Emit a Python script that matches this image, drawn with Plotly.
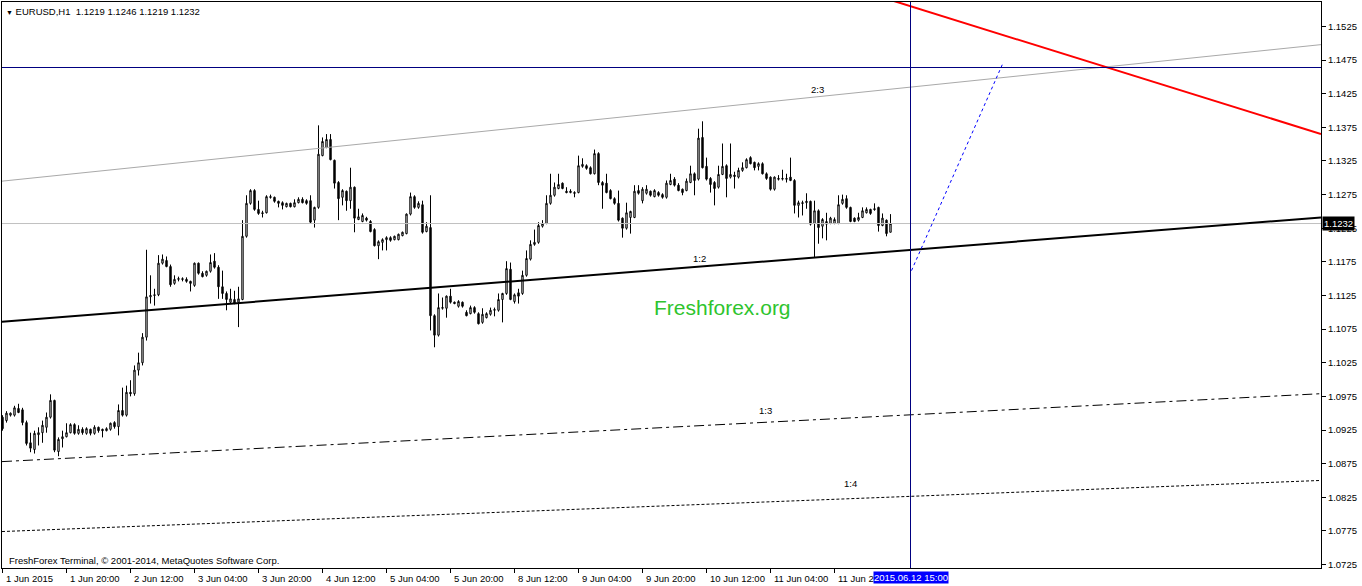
import plotly.graph_objects as go

# ---------------- data (EURUSD H1, bar 0 = 1 Jun 2015 00:00) ----------------
bar_index = list(range(223))

opens = [
    1.0944, 1.0939, 1.0947, 1.0947, 1.0957, 1.0955, 1.0936, 1.0906, 1.0896, 1.0918,
    1.0921, 1.0929, 1.0944, 1.0969, 1.0893, 1.0912, 1.0915, 1.0921, 1.0933, 1.0920,
    1.0926, 1.0920, 1.0926, 1.0920, 1.0929, 1.0926, 1.0924, 1.0926, 1.0936, 1.0930,
    1.0954, 1.0947, 1.0981, 1.0979, 1.1014, 1.1025, 1.1063, 1.1123, 1.1125, 1.1126,
    1.1173, 1.1177, 1.1168, 1.1143, 1.1149, 1.1150, 1.1149, 1.1146, 1.1140, 1.1173,
    1.1158, 1.1155, 1.1161, 1.1176, 1.1167, 1.1138, 1.1128, 1.1115, 1.1119, 1.1115,
    1.1119, 1.1213, 1.1262, 1.1281, 1.1253, 1.1248, 1.1248, 1.1272, 1.1271, 1.1265,
    1.1263, 1.1257, 1.1262, 1.1257, 1.1263, 1.1268, 1.1266, 1.1266, 1.1237, 1.1256,
    1.1333, 1.1345, 1.1357, 1.1326, 1.1293, 1.1271, 1.1280, 1.1266, 1.1286, 1.1238,
    1.1235, 1.1240, 1.1235, 1.1223, 1.1199, 1.1204, 1.1208, 1.1211, 1.1208, 1.1208,
    1.1214, 1.1217, 1.1246, 1.1272, 1.1256, 1.1260, 1.1220, 1.1226, 1.1095, 1.1066,
    1.1106, 1.1106, 1.1124, 1.1115, 1.1109, 1.1115, 1.1100, 1.1098, 1.1107, 1.1098,
    1.1085, 1.1092, 1.1097, 1.1103, 1.1103, 1.1119, 1.1128, 1.1164, 1.1116, 1.1129,
    1.1128, 1.1155, 1.1179, 1.1201, 1.1204, 1.1228, 1.1232, 1.1262, 1.1274, 1.1284,
    1.1292, 1.1280, 1.1278, 1.1278, 1.1278, 1.1317, 1.1318, 1.1315, 1.1306, 1.1336,
    1.1293, 1.1292, 1.1281, 1.1269, 1.1262, 1.1240, 1.1225, 1.1241, 1.1241, 1.1281,
    1.1266, 1.1277, 1.1280, 1.1272, 1.1278, 1.1275, 1.1271, 1.1290, 1.1298, 1.1289,
    1.1283, 1.1281, 1.1293, 1.1306, 1.1298, 1.1360, 1.1317, 1.1299, 1.1293, 1.1286,
    1.1305, 1.1318, 1.1301, 1.1304, 1.1301, 1.1311, 1.1315, 1.1330, 1.1323, 1.1317,
    1.1321, 1.1306, 1.1301, 1.1283, 1.1299, 1.1298, 1.1299, 1.1301, 1.1296, 1.1259,
    1.1263, 1.1263, 1.1265, 1.1232, 1.1251, 1.1228, 1.1231, 1.1232, 1.1232, 1.1232,
    1.1262, 1.1269, 1.1256, 1.1240, 1.1237, 1.1241, 1.1248, 1.1253, 1.1254, 1.1256,
    1.1229, 1.1237, 1.1219,
]

highs = [
    1.0947, 1.0953, 1.0951, 1.0961, 1.0964, 1.0958, 1.0939, 1.0921, 1.0924, 1.0929,
    1.0939, 1.0951, 1.0978, 1.0970, 1.0914, 1.0924, 1.0935, 1.0935, 1.0935, 1.0932,
    1.0929, 1.0929, 1.0927, 1.0932, 1.0930, 1.0927, 1.0929, 1.0936, 1.0938, 1.0963,
    1.0988, 1.0991, 1.0999, 1.1021, 1.1040, 1.1069, 1.1193, 1.1155, 1.1135, 1.1185,
    1.1186, 1.1183, 1.1171, 1.1155, 1.1153, 1.1152, 1.1152, 1.1147, 1.1174, 1.1174,
    1.1161, 1.1162, 1.1186, 1.1188, 1.1170, 1.1162, 1.1131, 1.1135, 1.1132, 1.1138,
    1.1237, 1.1274, 1.1283, 1.1283, 1.1266, 1.1251, 1.1274, 1.1275, 1.1272, 1.1266,
    1.1265, 1.1263, 1.1263, 1.1268, 1.1271, 1.1271, 1.1268, 1.1274, 1.1257, 1.1378,
    1.1360, 1.1365, 1.1365, 1.1327, 1.1295, 1.1283, 1.1281, 1.1315, 1.1287, 1.1254,
    1.1247, 1.1242, 1.1237, 1.1225, 1.1207, 1.1210, 1.1213, 1.1213, 1.1214, 1.1217,
    1.1220, 1.1247, 1.1278, 1.1274, 1.1265, 1.1266, 1.1234, 1.1274, 1.1097, 1.1128,
    1.1122, 1.1125, 1.1135, 1.1116, 1.1118, 1.1116, 1.1103, 1.1110, 1.1109, 1.1100,
    1.1106, 1.1100, 1.1107, 1.1107, 1.1128, 1.1129, 1.1176, 1.1174, 1.1128, 1.1135,
    1.1162, 1.1192, 1.1207, 1.1223, 1.1234, 1.1237, 1.1274, 1.1306, 1.1293, 1.1306,
    1.1293, 1.1286, 1.1283, 1.1280, 1.1333, 1.1329, 1.1320, 1.1317, 1.1342, 1.1338,
    1.1295, 1.1306, 1.1283, 1.1271, 1.1281, 1.1241, 1.1263, 1.1251, 1.1289, 1.1289,
    1.1286, 1.1289, 1.1281, 1.1283, 1.1280, 1.1277, 1.1296, 1.1306, 1.1301, 1.1292,
    1.1284, 1.1299, 1.1318, 1.1308, 1.1373, 1.1384, 1.1330, 1.1301, 1.1295, 1.1318,
    1.1351, 1.1320, 1.1351, 1.1309, 1.1315, 1.1323, 1.1329, 1.1332, 1.1324, 1.1323,
    1.1323, 1.1308, 1.1302, 1.1302, 1.1304, 1.1312, 1.1306, 1.1330, 1.1298, 1.1266,
    1.1266, 1.1277, 1.1266, 1.1266, 1.1253, 1.1240, 1.1248, 1.1242, 1.1241, 1.1274,
    1.1275, 1.1274, 1.1257, 1.1241, 1.1248, 1.1256, 1.1256, 1.1254, 1.1262, 1.1257,
    1.1247, 1.1238, 1.1246,
]

lows = [
    1.0924, 1.0936, 1.0945, 1.0945, 1.0950, 1.0932, 1.0902, 1.0892, 1.0890, 1.0902,
    1.0906, 1.0921, 1.0942, 1.0892, 1.0886, 1.0899, 1.0914, 1.0920, 1.0918, 1.0918,
    1.0918, 1.0918, 1.0917, 1.0918, 1.0921, 1.0914, 1.0923, 1.0924, 1.0927, 1.0917,
    1.0945, 1.0945, 1.0975, 1.0976, 1.1006, 1.1021, 1.1058, 1.1113, 1.1110, 1.1124,
    1.1171, 1.1167, 1.1138, 1.1141, 1.1146, 1.1146, 1.1144, 1.1131, 1.1138, 1.1156,
    1.1152, 1.1153, 1.1159, 1.1165, 1.1120, 1.1120, 1.1103, 1.1113, 1.1112, 1.1078,
    1.1118, 1.1211, 1.1260, 1.1251, 1.1245, 1.1241, 1.1247, 1.1269, 1.1263, 1.1256,
    1.1253, 1.1256, 1.1256, 1.1256, 1.1262, 1.1262, 1.1260, 1.1232, 1.1226, 1.1254,
    1.1332, 1.1344, 1.1326, 1.1284, 1.1237, 1.1259, 1.1251, 1.1254, 1.1219, 1.1237,
    1.1234, 1.1235, 1.1219, 1.1198, 1.1179, 1.1192, 1.1192, 1.1205, 1.1207, 1.1207,
    1.1213, 1.1216, 1.1244, 1.1254, 1.1254, 1.1217, 1.1219, 1.1073, 1.1048, 1.1064,
    1.1104, 1.1092, 1.1113, 1.1112, 1.1107, 1.1107, 1.1094, 1.1097, 1.1098, 1.1082,
    1.1083, 1.1091, 1.1095, 1.1094, 1.1101, 1.1085, 1.1126, 1.1118, 1.1113, 1.1113,
    1.1126, 1.1153, 1.1177, 1.1199, 1.1202, 1.1226, 1.1231, 1.1260, 1.1272, 1.1283,
    1.1283, 1.1277, 1.1277, 1.1271, 1.1277, 1.1315, 1.1312, 1.1305, 1.1305, 1.1289,
    1.1254, 1.1277, 1.1268, 1.1260, 1.1235, 1.1211, 1.1223, 1.1217, 1.1240, 1.1275,
    1.1262, 1.1275, 1.1272, 1.1271, 1.1272, 1.1269, 1.1269, 1.1289, 1.1287, 1.1280,
    1.1274, 1.1280, 1.1292, 1.1274, 1.1296, 1.1314, 1.1296, 1.1278, 1.1259, 1.1284,
    1.1304, 1.1271, 1.1299, 1.1284, 1.1299, 1.1309, 1.1314, 1.1320, 1.1311, 1.1311,
    1.1305, 1.1297, 1.1281, 1.1281, 1.1296, 1.1296, 1.1293, 1.1295, 1.1247, 1.1241,
    1.1244, 1.1254, 1.1229, 1.1182, 1.1202, 1.1210, 1.1207, 1.1231, 1.1231, 1.1231,
    1.1260, 1.1254, 1.1234, 1.1234, 1.1235, 1.1240, 1.1247, 1.1245, 1.1251, 1.1220,
    1.1228, 1.1213, 1.1219,
]

closes = [
    1.0927, 1.0950, 1.0950, 1.0958, 1.0951, 1.0936, 1.0905, 1.0898, 1.0920, 1.0921,
    1.0932, 1.0944, 1.0969, 1.0895, 1.0911, 1.0915, 1.0921, 1.0933, 1.0920, 1.0926,
    1.0921, 1.0927, 1.0920, 1.0929, 1.0924, 1.0924, 1.0927, 1.0935, 1.0930, 1.0954,
    1.0947, 1.0981, 1.0979, 1.1014, 1.1025, 1.1063, 1.1123, 1.1125, 1.1126, 1.1173,
    1.1179, 1.1168, 1.1141, 1.1149, 1.1150, 1.1149, 1.1146, 1.1143, 1.1173, 1.1158,
    1.1153, 1.1161, 1.1174, 1.1167, 1.1138, 1.1128, 1.1119, 1.1120, 1.1113, 1.1120,
    1.1213, 1.1262, 1.1281, 1.1253, 1.1247, 1.1247, 1.1272, 1.1271, 1.1265, 1.1262,
    1.1259, 1.1262, 1.1257, 1.1263, 1.1268, 1.1263, 1.1262, 1.1234, 1.1256, 1.1335,
    1.1354, 1.1357, 1.1327, 1.1292, 1.1269, 1.1281, 1.1266, 1.1286, 1.1240, 1.1242,
    1.1244, 1.1237, 1.1220, 1.1199, 1.1205, 1.1208, 1.1211, 1.1207, 1.1213, 1.1216,
    1.1219, 1.1246, 1.1272, 1.1256, 1.1262, 1.1219, 1.1228, 1.1095, 1.1066, 1.1107,
    1.1107, 1.1124, 1.1115, 1.1113, 1.1116, 1.1109, 1.1095, 1.1107, 1.1100, 1.1083,
    1.1097, 1.1098, 1.1103, 1.1104, 1.1119, 1.1128, 1.1165, 1.1119, 1.1126, 1.1124,
    1.1155, 1.1180, 1.1201, 1.1204, 1.1229, 1.1232, 1.1262, 1.1274, 1.1286, 1.1290,
    1.1284, 1.1278, 1.1280, 1.1277, 1.1318, 1.1320, 1.1314, 1.1306, 1.1336, 1.1293,
    1.1289, 1.1278, 1.1269, 1.1262, 1.1237, 1.1225, 1.1248, 1.1250, 1.1280, 1.1277,
    1.1283, 1.1283, 1.1274, 1.1281, 1.1274, 1.1271, 1.1292, 1.1296, 1.1289, 1.1281,
    1.1278, 1.1295, 1.1306, 1.1296, 1.1359, 1.1315, 1.1298, 1.1290, 1.1284, 1.1305,
    1.1317, 1.1299, 1.1305, 1.1302, 1.1311, 1.1315, 1.1327, 1.1321, 1.1315, 1.1321,
    1.1306, 1.1299, 1.1283, 1.1301, 1.1298, 1.1299, 1.1298, 1.1296, 1.1259, 1.1263,
    1.1262, 1.1265, 1.1231, 1.1251, 1.1226, 1.1238, 1.1235, 1.1240, 1.1238, 1.1260,
    1.1268, 1.1256, 1.1235, 1.1235, 1.1241, 1.1251, 1.1253, 1.1247, 1.1253, 1.1229,
    1.1240, 1.1217, 1.1232,
]

time_tick_bars = [0, 16, 32, 48, 64, 80, 96, 112, 128, 144, 160, 176, 192, 208]
time_tick_text = ["1 Jun 2015", "1 Jun 20:00", "2 Jun 12:00", "3 Jun 04:00", "3 Jun 20:00",
                  "4 Jun 12:00", "5 Jun 04:00", "5 Jun 20:00", "8 Jun 12:00", "9 Jun 04:00",
                  "9 Jun 20:00", "10 Jun 12:00", "11 Jun 04:00", "11 Jun 20:00"]

price_ticks = [1.0725, 1.0775, 1.0825, 1.0875, 1.0925, 1.0975, 1.1025, 1.1075, 1.1125,
               1.1175, 1.1225, 1.1275, 1.1325, 1.1375, 1.1425, 1.1475, 1.1525]
price_tick_text = ["1.0725", "1.0775", "1.0825", "1.0875", "1.0925", "1.0975", "1.1025",
                   "1.1075", "1.1125", "1.1175", "1.1225", "1.1275", "1.1325", "1.1375",
                   "1.1425", "1.1475", "1.1525"]

x_range = [-0.125, 329.625]
y_range = [1.07198, 1.15614]

# drawn objects (bar index, price)
line_edges = [-0.125, 329.625]
line_23 = [1.1295, 1.1498]
line_12 = [1.1086, 1.1241]
line_13 = [1.0878, 1.0979]
line_14 = [1.0774, 1.0850]
red_bars = [222.0, 329.625]
red_prices = [1.15644, 1.13651]
blue_bars = [227.25, 250.0]
blue_prices = [1.1162, 1.1469]
cross_bar = 227
cross_price = 1.1464
last_price = 1.1232

label_bars = [203.75, 174.25, 190.75, 212.0]
label_prices = [1.1431, 1.1180, 1.0954, 1.0846]
label_texts = ["2:3", "1:2", "1:3", "1:4"]

assert len(opens) == len(highs) == len(lows) == len(closes) == len(bar_index)

FONT = "Liberation Sans, Arial, sans-serif"
SMALL = 9.5

fig = go.Figure()

# current price line (behind candles)
fig.add_trace(go.Scatter(x=x_range, y=[last_price, last_price], mode="lines",
                         line=dict(color="#c0c0c0", width=1), hoverinfo="skip", showlegend=False))

fig.add_trace(go.Candlestick(
    x=bar_index, open=opens, high=highs, low=lows, close=closes,
    increasing=dict(line=dict(color="black", width=1), fillcolor="white"),
    decreasing=dict(line=dict(color="black", width=1), fillcolor="black"),
    whiskerwidth=0, showlegend=False, hoverinfo="skip"))

def add_line(xs, ys, color, width, dash="solid"):
    fig.add_trace(go.Scatter(x=xs, y=ys, mode="lines",
                             line=dict(color=color, width=width, dash=dash),
                             hoverinfo="skip", showlegend=False))

add_line(line_edges, line_23, "#a9a9a9", 1)
add_line(line_edges, line_12, "black", 2)
add_line(line_edges, line_13, "black", 1, "10px,4px,3px,4px")
add_line(line_edges, line_14, "black", 1, "3px,2px")
add_line(red_bars, red_prices, "#ff0000", 2)
add_line(blue_bars, blue_prices, "#0000ff", 1, "3px,3px")
add_line(x_range, [cross_price, cross_price], "#000080", 1)
add_line([cross_bar, cross_bar], y_range, "#000080", 1)

annotations = []
for b, p, t in zip(label_bars, label_prices, label_texts):
    annotations.append(dict(x=b, y=p, xref="x", yref="y", text=t, showarrow=False,
                            font=dict(family=FONT, size=SMALL, color="black")))

for b, t in zip(time_tick_bars, time_tick_text):
    annotations.append(dict(x=b, y=0, xref="x", yref="paper", text=t, showarrow=False,
                            xanchor="left", yanchor="top", xshift=1, yshift=-3,
                            font=dict(family=FONT, size=SMALL, color="black")))

annotations.append(dict(x=cross_bar, y=0, xref="x", yref="paper",
                        text="2015.06.12 15:00", showarrow=False,
                        xanchor="center", yanchor="top", yshift=-3,
                        bgcolor="#0000ff", borderpad=0,
                        font=dict(family=FONT, size=SMALL, color="white")))

annotations.append(dict(x=1, y=last_price, xref="paper", yref="y", text="1.1232",
                        showarrow=False, xanchor="left", yanchor="middle", xshift=1,
                        bgcolor="black", borderpad=1,
                        font=dict(family=FONT, size=SMALL, color="white")))

annotations.append(dict(x=0.0015, y=0.984, xref="paper", yref="paper",
                        text="<span style='font-size:7px'>▼</span> EURUSD,H1&nbsp;&nbsp;1.1219 1.1246 1.1219 1.1232",
                        showarrow=False, xanchor="left", yanchor="middle",
                        font=dict(family=FONT, size=SMALL, color="black")))

annotations.append(dict(x=0.0035, y=0.0141, xref="paper", yref="paper",
                        text="FreshForex Terminal, © 2001-2014, MetaQuotes Software Corp.",
                        showarrow=False, xanchor="left", yanchor="middle",
                        font=dict(family=FONT, size=SMALL, color="black")))

annotations.append(dict(x=0.5466, y=0.4594, xref="paper", yref="paper",
                        text="Freshforex.org", showarrow=False,
                        xanchor="center", yanchor="middle",
                        font=dict(family=FONT, size=21, color="#2ec42e")))

fig.update_layout(
    width=1362, height=586,
    margin=dict(l=2, r=41, t=2, b=18, pad=0),
    paper_bgcolor="white", plot_bgcolor="white",
    showlegend=False, boxgap=0.5,
    annotations=annotations,
    xaxis=dict(range=x_range, showgrid=False, zeroline=False, showline=True,
               linecolor="black", linewidth=1, mirror=True,
               tickvals=time_tick_bars, ticks="outside", ticklen=4, tickcolor="black",
               showticklabels=False, rangeslider=dict(visible=False), fixedrange=True),
    yaxis=dict(range=y_range, side="right", showgrid=False, zeroline=False, showline=True,
               linecolor="black", linewidth=1, mirror=True,
               tickvals=price_ticks, ticktext=price_tick_text, ticks="outside",
               ticklen=4, tickcolor="black",
               tickfont=dict(family=FONT, size=SMALL, color="black"), fixedrange=True),
)

fig.write_html("out.html", config={"displayModeBar": False},
               post_script="document.body.style.margin='0px';")
